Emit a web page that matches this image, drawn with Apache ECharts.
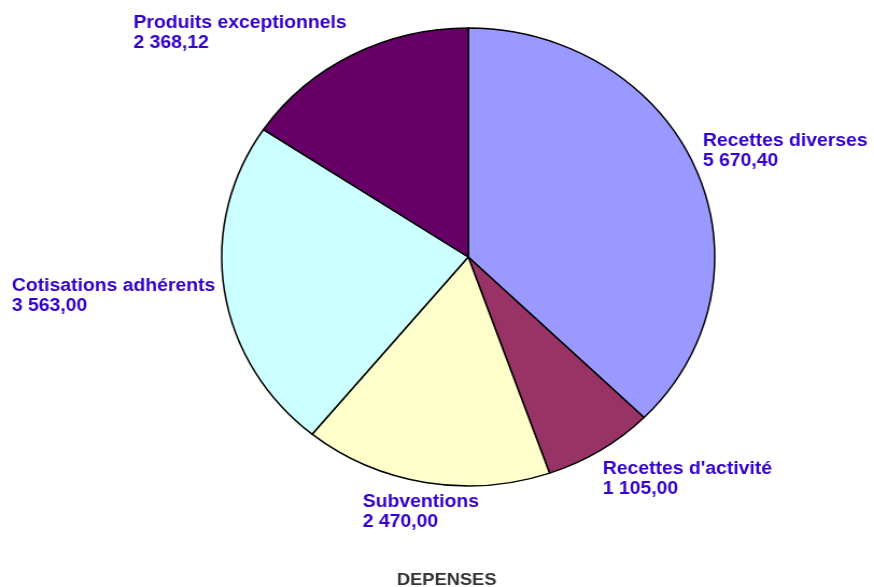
<html lang="fr">
<head>
    <meta charset="UTF-8">
    <title>DEPENSES</title>
    <script src="https://cdn.jsdelivr.net/npm/echarts@6/dist/echarts.min.js"></script>
    <style>
        html, body { margin: 0; padding: 0; background: #fff; overflow: hidden; }
        /* the original picture is stretched a little horizontally */
        #main { width: 812px; height: 587px; transform: scaleX(1.0764); transform-origin: 0 0; }
    </style>
</head>
<body>
    <div id="main"></div>
    <script type="text/javascript">
        // slices, clockwise from 12 o'clock
        var categories = ["Recettes diverses", "Recettes d'activité", "Subventions", "Cotisations adhérents", "Produits exceptionnels"];
        var values = [5670.40, 1105.00, 2470.00, 3563.00, 2368.12];
        var colors = ['#9999ff', '#993366', '#ffffcc', '#ccffff', '#660066'];

        // label top-left corners, in the unstretched frame (layout only)
        var labelPos = [[653, 131], [560, 459], [337, 492], [11, 276], [124, 13]];

        function frNum(v) {
            var parts = v.toFixed(2).split('.');
            return parts[0].replace(/\B(?=(\d{3})+(?!\d))/g, ' ') + ',' + parts[1];
        }

        var chart = echarts.init(document.getElementById('main'));
        var option = {
            backgroundColor: '#fff',
            animation: false,
            title: {
                text: 'DEPENSES',
                left: 415,
                top: 572,
                padding: 0,
                textAlign: 'center',
                textStyle: {
                    fontFamily: 'Liberation Sans',
                    fontWeight: 'bold',
                    fontSize: 17,
                    color: '#333333'
                }
            },
            series: [{
                type: 'pie',
                center: [435, 257],
                radius: 229,
                startAngle: 90,
                clockwise: true,
                data: categories.map(function (c, i) {
                    return { name: c, value: values[i], itemStyle: { color: colors[i] } };
                }),
                itemStyle: {
                    borderColor: '#000',
                    borderWidth: 1.5
                },
                label: {
                    show: true,
                    position: 'outside',
                    overflow: 'none',
                    formatter: function (p) {
                        return p.name + '\n' + frNum(p.value);
                    },
                    fontFamily: 'Liberation Sans',
                    fontWeight: 'bold',
                    fontSize: 18,
                    lineHeight: 20,
                    color: '#3300cc'
                },
                labelLine: { show: false },
                labelLayout: function (params) {
                    var p = labelPos[params.dataIndex];
                    return { x: p[0], y: p[1], align: 'left', verticalAlign: 'top' };
                },
                emphasis: { disabled: true }
            }]
        };
        chart.setOption(option);
    </script>
</body>
</html>
